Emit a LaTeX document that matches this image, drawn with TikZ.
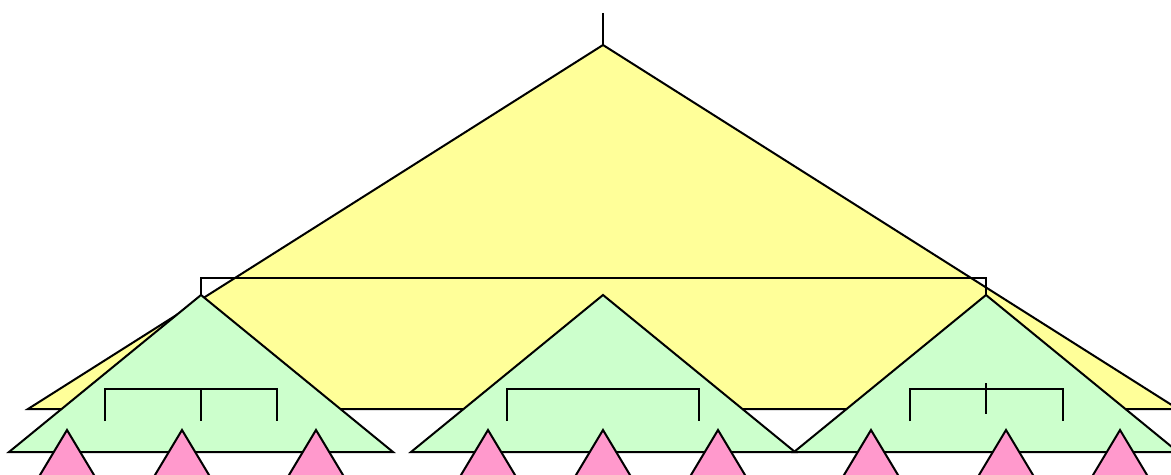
\documentclass[tikz,border=0pt]{standalone}
\usetikzlibrary{calc}
\definecolor{TopYellow}{RGB}{255,255,153}
\definecolor{MidGreen}{RGB}{204,255,204}
\definecolor{LeafPink}{RGB}{255,153,204}
\tikzset{
  bigtri/.style={draw=black,fill=TopYellow,line width=1pt},
  midtri/.style={draw=black,fill=MidGreen,line width=1pt},
  leaftri/.style={draw=black,fill=LeafPink,line width=1pt},
  link/.style={draw=black,line width=1pt}
}
\begin{document}
\begin{tikzpicture}[x=0.5pt,y=-0.5pt]
\useasboundingbox (0,0) rectangle (1171,475);
% top level
\coordinate (top) at (603,13);
\coordinate (root) at (603,45);
\draw[link] (top) -- (root);
\draw[bigtri] (root) -- ++(-575,364) -- ++(1150,0) -- cycle;

% middle level
\coordinate (m1) at (201,295);
\coordinate (m2) at (603,295);
\coordinate (m3) at (986,295);
\draw[link] (m1) -- ++(0,-17) -| (m3);
\foreach \n in {m1,m2,m3}
  \draw[midtri] (\n) -- ++(-192,157) -- ++(384,0) -- cycle;

% inner brackets
\draw[link] (105,421) |- (277,389) -- ++(0,32);
\draw[link] (201,389) -- (201,421);
\draw[link] (507,421) |- (699,389) -- ++(0,32);
\draw[link] (910,421) |- (1063,389) -- ++(0,32);
\draw[link] (986,383) -- (986,414);

% leaves
\foreach \x [count=\i] in {67,182,316,488,603,718,871,1006,1120} {
  \coordinate (l\i) at (\x,430);
  \draw[leaftri] (l\i) -- ++(-60,100) -- ++(120,0) -- cycle;
}
\end{tikzpicture}
\end{document}
